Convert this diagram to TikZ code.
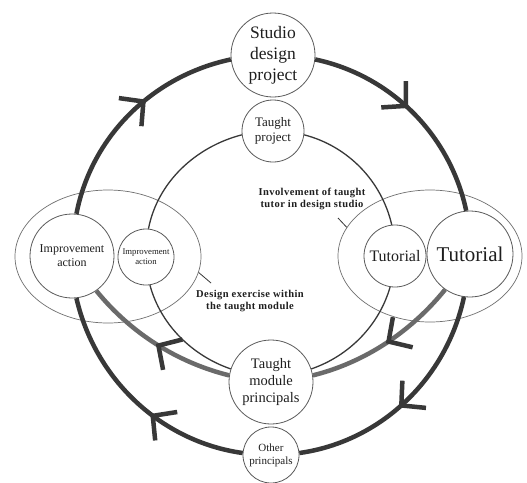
\documentclass[tikz,border=0pt]{standalone}
\usepackage{fontspec}
\setmainfont{Liberation Serif}
\usetikzlibrary{arrows.meta,decorations.markings,shapes.geometric,backgrounds}
\definecolor{ring}{HTML}{383838}
\definecolor{garc}{HTML}{6A6A6A}
\definecolor{nodeline}{HTML}{5A5A5A}
\definecolor{ellline}{HTML}{707070}
\definecolor{txt}{HTML}{1E1E1E}
\tikzset{
  cnode/.style={circle, draw=nodeline, line width=0.8pt, fill=white, inner sep=0pt, align=center, text=txt},
  ellnode/.style={ellipse, draw=ellline, line width=0.7pt, inner sep=0pt},
  ringarc/.style={draw=ring, line width=4.5pt},
  grayarc/.style={draw=garc, line width=4.5pt},
  innerarc/.style={draw=ring, line width=1.3pt},
  leader/.style={draw=ring, line width=0.8pt},
  mid/.style={postaction={decorate}, decoration={markings, mark=at position #1 with {\arrow{Straight Barb[length=17pt,width=36pt,line width=4.5pt,color=ring]}}}},
  lbl/.style={font=\fontsize{10.5}{12}\selectfont\bfseries\addfontfeature{LetterSpace=4}, align=center, text=txt},
}
\begin{document}
\begin{tikzpicture}[x=1pt,y=-1pt]
\useasboundingbox (0,0) rectangle (527,482);
\begin{pgfonlayer}{background}
\fill[white] (0,0) rectangle (527,482);
\end{pgfonlayer}
% ellipses
\node[ellnode, minimum width=186pt, minimum height=133pt] (ellL) at (108,256.5) {};
\node[ellnode, minimum width=184pt, minimum height=132pt] (ellR) at (430,256) {};
% circle nodes
\node[cnode, minimum size=84pt, font=\fontsize{17.5}{21}\selectfont] (studio) at (273,55) {Studio\\design\\project};
\node[cnode, minimum size=62pt, font=\fontsize{13}{15}\selectfont] (taughtP) at (273,131) {Taught\\project};
\node[cnode, minimum size=84pt, font=\fontsize{14.5}{17}\selectfont] (principals) at (271,382) {Taught\\module\\principals};
\node[cnode, minimum size=56pt, font=\fontsize{11}{13}\selectfont] (other) at (271,455) {Other\\principals};
\node[cnode, minimum size=84pt, font=\fontsize{12}{14}\selectfont] (improvB) at (72,256) {Improvement\\action};
\node[cnode, minimum size=56pt, font=\fontsize{8.7}{10}\selectfont] (improvS) at (146,257) {Improvement\\action};
\node[cnode, minimum size=62pt, font=\fontsize{16}{19}\selectfont] (tutS) at (395,256) {Tutorial};
\node[cnode, minimum size=86pt, font=\fontsize{21}{25}\selectfont] (tutB) at (470,254) {Tutorial};
% labels
\node[lbl] (inv) at (312,199) {Involvement of taught\\tutor in design studio};
\node[lbl] (dex) at (250,301.5) {Design exercise within\\the taught module};
\coordinate (invtip) at (338,218);
\coordinate (dextip) at (211,283);
\draw[leader] (invtip) -- (ellR.161);
\draw[leader] (ellL.-10) -- (dextip);
% inner thin circle
\draw[innerarc] (taughtP.-7) to[out=-14.5, in=103, looseness=0.92] (tutS.96);
\draw[innerarc] (tutS.261) to[out=-106, in=19, looseness=0.9] (principals.18);
\draw[innerarc] (principals.162) to[out=161, in=-75, looseness=0.9] (improvS.-82);
\draw[innerarc] (improvS.85) to[out=79, in=194.5, looseness=0.92] (taughtP.187);
% gray arcs
\draw[grayarc, mid=0.5] (principals.171) to[out=166, in=-51, looseness=0.875] (improvB.-55);
\draw[grayarc, mid=0.5] (tutB.235) to[out=231, in=14, looseness=0.875] (principals.9);
% outer ring
\draw[ringarc, mid=0.47] (studio.-6) to[out=-12, in=102, looseness=0.925] (tutB.95);
\draw[ringarc, mid=0.54] (tutB.262) to[out=-102, in=8, looseness=0.935] (other.4);
\draw[ringarc, mid=0.42] (other.176) to[out=172, in=-77, looseness=0.935] (improvB.-84);
\draw[ringarc, mid=0.59] (improvB.84) to[out=79, in=192, looseness=0.93] (studio.186);
\end{tikzpicture}
\end{document}
